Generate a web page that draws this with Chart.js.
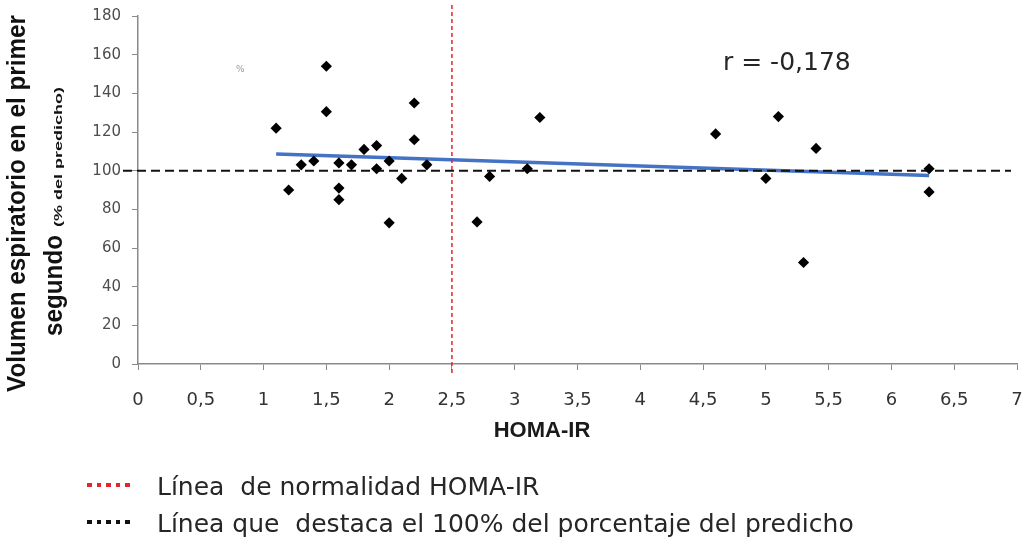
<!DOCTYPE html>
<html>
<head>
<meta charset="utf-8">
<script src="https://cdn.jsdelivr.net/npm/chart.js@4.4.0/dist/chart.umd.min.js"></script>
<style>
  html, body { margin: 0; padding: 0; background: #fff; }
  #wrap { position: relative; width: 1029px; height: 546px; overflow: hidden; }
  #chart { position: absolute; left: 0; top: 0; }
  .legend-row { position: absolute; left: 0; height: 30px; }
  .legend-dots { position: absolute; left: 87px; width: 47px; height: 4px; }
  .legend-text { position: absolute; left: 157px; top: 0; font-family: "DejaVu Sans", sans-serif;
                 font-size: 25px; line-height: 25px; color: #262626; white-space: pre; }
</style>
</head>
<body>
<div id="wrap">
  <canvas id="chart" width="1029" height="546"></canvas>
  <div id="legend"></div>
</div>
<script>
// HOMA-IR index and FEV1 (% of predicted) for each subject
const homaIR  = [1.1, 1.2, 1.3, 1.4, 1.5, 1.5, 1.6, 1.6, 1.6, 1.7, 1.8, 1.9, 1.9, 2.0, 2.0,
                 2.1, 2.2, 2.2, 2.3, 2.7, 2.8, 3.1, 3.2, 4.6, 5.0, 5.1, 5.3, 5.4, 6.3, 6.3];
const fev1Pct = [122, 90, 103, 105, 154, 130.5, 104, 91, 85, 103, 111, 113, 101, 105, 73,
                 96, 135, 116, 103, 73.5, 97, 101, 127.5, 119, 96, 128, 52.5, 111.5, 101, 89];

// Linear fit drawn across the observed HOMA-IR range
const trendX = [1.1, 6.3];
const trendY = [108.6, 97.5];

const xTickLabels = ['0', '0,5', '1', '1,5', '2', '2,5', '3', '3,5', '4', '4,5', '5', '5,5', '6', '6,5', '7'];
const yTickLabels = ['0', '20', '40', '60', '80', '100', '120', '140', '160', '180'];

const homaCutoff = 2.5;      // HOMA-IR normality limit
const fevReference = 100;    // 100 % of predicted value
const rLabel = 'r = -0,178';

const legendItems = [
  { text: 'Línea  de normalidad HOMA-IR', color: '#e3262e' },
  { text: 'Línea que  destaca el 100% del porcentaje del predicho', color: '#111111' }
];

// Legend rows (HTML, below the plot)
const legendTops = [474, 511];
const legendEl = document.getElementById('legend');
legendItems.forEach((item, i) => {
  const row = document.createElement('div');
  row.className = 'legend-row';
  row.style.top = legendTops[i] + 'px';
  row.style.width = '1029px';
  const dots = document.createElement('div');
  dots.className = 'legend-dots';
  dots.style.top = '9px';
  dots.style.background = `repeating-linear-gradient(to right, ${item.color} 0 4.6px, transparent 4.6px 9.6px)`;
  const txt = document.createElement('div');
  txt.className = 'legend-text';
  txt.textContent = item.text;
  row.appendChild(dots);
  row.appendChild(txt);
  legendEl.appendChild(row);
});

const AXIS_GRAY = '#8a8a8a';

// Fix the axis box sizes and drop the label overhang padding so the plot area is exact
function fitBox(size, key) {
  return (scale) => {
    scale[key] = size;
    scale.paddingLeft = 0;
    scale.paddingRight = 0;
    scale.paddingTop = 0;
    scale.paddingBottom = 0;
  };
}

const decorations = {
  id: 'decorations',
  // reference lines go between the fit line and the markers
  afterDatasetDraw(chart, args) {
    if (args.index !== 1) return;
    const { ctx, scales: { x, y } } = chart;
    ctx.save();
    const py = y.getPixelForValue(fevReference);
    ctx.strokeStyle = '#111';
    ctx.lineWidth = 2;
    ctx.setLineDash([9, 5]);
    ctx.beginPath();
    ctx.moveTo(x.left - 15, py);
    ctx.lineTo(x.right - 6, py);
    ctx.stroke();

    const px = x.getPixelForValue(homaCutoff);
    ctx.strokeStyle = '#e3262e';
    ctx.lineWidth = 1.5;
    ctx.setLineDash([4, 3]);
    ctx.beginPath();
    ctx.moveTo(px, y.top - 11);
    ctx.lineTo(px, y.bottom + 12);
    ctx.stroke();
    ctx.restore();
  },
  afterDraw(chart) {
    const { ctx } = chart;
    ctx.save();
    ctx.fillStyle = '#111';
    ctx.textBaseline = 'alphabetic';
    ctx.textAlign = 'left';

    // Y axis title, two rotated lines
    const bigFont = 'bold 26px "Liberation Sans", sans-serif';
    const smallFont = 'bold 11px "Liberation Sans", sans-serif';
    const line1 = 'Volumen espiratorio en el primer';
    ctx.font = bigFont;
    const w1 = ctx.measureText(line1).width;
    const s = 377 / w1;
    ctx.save();
    ctx.translate(25, 392);
    ctx.rotate(-Math.PI / 2);
    ctx.scale(s, 1);
    ctx.fillText(line1, 0, 0);
    ctx.restore();

    const seg = 'segundo';
    const note = '(% del predicho)';
    ctx.font = bigFont;
    const wSeg = ctx.measureText(seg).width * s;
    ctx.font = smallFont;
    const wNote = ctx.measureText(note).width;
    const sNote = 140 / wNote;
    ctx.save();
    ctx.translate(62, 336);
    ctx.rotate(-Math.PI / 2);
    ctx.save();
    ctx.scale(s, 1);
    ctx.font = bigFont;
    ctx.fillText(seg, 0, 0);
    ctx.restore();
    ctx.translate(wSeg + 8, 0);
    ctx.scale(sNote, 1);
    ctx.font = smallFont;
    ctx.fillText(note, 0, 0);
    ctx.restore();

    // X axis title
    ctx.font = 'bold 22px "Liberation Sans", sans-serif';
    ctx.textAlign = 'center';
    ctx.fillStyle = '#1a1a1a';
    ctx.fillText('HOMA-IR', 542, 437);

    // correlation coefficient
    ctx.font = '25px "DejaVu Sans", sans-serif';
    ctx.textAlign = 'left';
    ctx.fillStyle = '#262626';
    ctx.fillText(rLabel, 723, 70);

    // faint stray mark
    ctx.font = '9px "DejaVu Sans", sans-serif';
    ctx.fillStyle = '#9a9a9a';
    ctx.fillText('%', 236, 72);
    ctx.restore();
  }
};

new Chart(document.getElementById('chart'), {
  type: 'scatter',
  data: {
    datasets: [
      {
        label: 'FEV1',
        data: homaIR.map((h, i) => ({ x: h, y: fev1Pct[i] })),
        pointStyle: 'rectRot',
        pointRadius: 5.6,
        pointHoverRadius: 5.6,
        backgroundColor: '#000',
        borderColor: '#000',
        borderWidth: 0
      },
      {
        type: 'line',
        label: 'Tendencia',
        data: trendX.map((t, i) => ({ x: t, y: trendY[i] })),
        borderColor: '#4472c4',
        borderWidth: 3.5,
        pointRadius: 0,
        fill: false
      }
    ]
  },
  options: {
    responsive: false,
    animation: false,
    events: [],
    layout: { padding: { top: 16, right: 12, left: 0, bottom: 0 } },
    plugins: { legend: { display: false }, tooltip: { enabled: false } },
    scales: {
      x: {
        type: 'linear',
        min: 0,
        max: 7,
        afterFit: fitBox(182, 'height'),
        border: { display: true, color: AXIS_GRAY, width: 1.5 },
        grid: { display: true, drawOnChartArea: false, drawTicks: true, tickLength: 6, color: AXIS_GRAY },
        ticks: {
          stepSize: 0.5,
          autoSkip: false,
          maxRotation: 0,
          padding: 20,
          color: '#333',
          font: { family: '"DejaVu Sans", sans-serif', size: 18 },
          callback: (v, i) => xTickLabels[i]
        }
      },
      y: {
        min: 0,
        max: 180,
        afterFit: fitBox(138, 'width'),
        border: { display: true, color: AXIS_GRAY, width: 1.5 },
        grid: { display: true, drawOnChartArea: false, drawTicks: true, tickLength: 6, color: AXIS_GRAY },
        ticks: {
          stepSize: 20,
          padding: 11,
          color: '#4d4d4d',
          font: { family: '"DejaVu Sans", sans-serif', size: 15 },
          callback: (v, i) => yTickLabels[i]
        }
      }
    }
  },
  plugins: [decorations]
});
</script>
</body>
</html>
